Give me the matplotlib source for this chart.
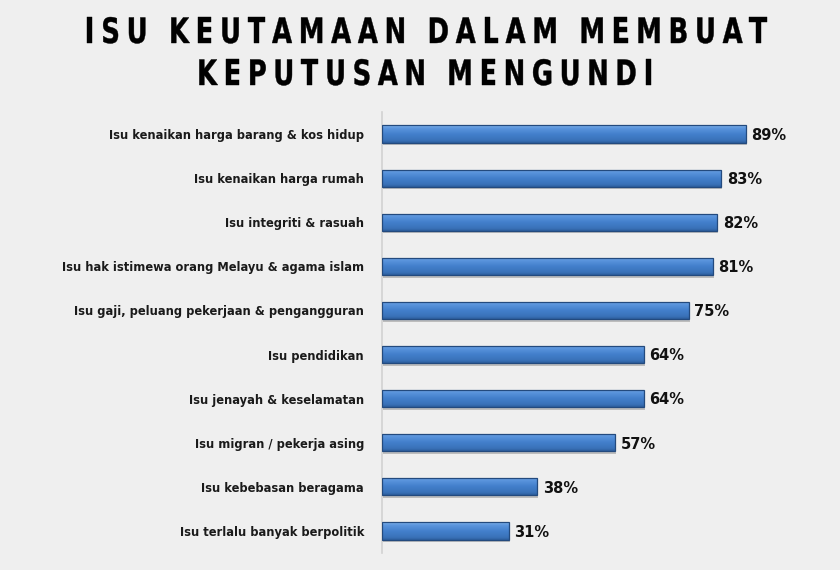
import numpy as np
import matplotlib
matplotlib.use("Agg")
import matplotlib.pyplot as plt
from matplotlib.colors import LinearSegmentedColormap
from matplotlib.textpath import TextPath, TextToPath
from matplotlib.font_manager import FontProperties
from matplotlib.patches import PathPatch
from matplotlib.transforms import Affine2D, IdentityTransform

categories = [
    "Isu kenaikan harga barang & kos hidup",
    "Isu kenaikan harga rumah",
    "Isu integriti & rasuah",
    "Isu hak istimewa orang Melayu & agama islam",
    "Isu gaji, peluang pekerjaan & pengangguran",
    "Isu pendidikan",
    "Isu jenayah & keselamatan",
    "Isu migran / pekerja asing",
    "Isu kebebasan beragama",
    "Isu terlalu banyak berpolitik",
]
values = [89, 83, 82, 81, 75, 64, 64, 57, 38, 31]
title_lines = ["ISU KEUTAMAAN DALAM MEMBUAT", "KEPUTUSAN MENGUNDI"]

BG = "#efefef"
W, H = 840, 570
fig = plt.figure(figsize=(8.4, 5.7), dpi=100, facecolor=BG)
ax = fig.add_axes([382/W, 1-553/H, 409/W, (553-112)/H])
ax.set_facecolor(BG)

y = np.arange(len(values))
bars = ax.barh(y, values, height=0.39, color="#3f7cc8", edgecolor="none", zorder=2)

grad = np.linspace(0, 1, 64).reshape(-1, 1)
cmap = LinearSegmentedColormap.from_list(
    "g", [(0, "#86b9f0"), (0.15, "#5d97de"), (0.5, "#4380cc"), (0.85, "#3a72b9"), (1, "#2d5e9e")])
for b in bars:
    x0, y0 = b.get_x(), b.get_y()
    w, h = b.get_width(), b.get_height()
    ax.add_patch(plt.Rectangle((x0 + 0.2, y0 + 0.06), w, h, color="#bdbdbd", zorder=1, lw=0))
    im = ax.imshow(grad, extent=(x0, x0 + w, y0 + h, y0), aspect="auto", cmap=cmap,
                   zorder=2.5, origin="upper")
    im.set_clip_path(b)
    ax.add_patch(plt.Rectangle((x0, y0), w, h, fill=False, edgecolor="#234a7e", lw=0.9, zorder=3))

for yi, v in zip(y, values):
    ax.text(v + 1.3, yi + 0.03, f"{v}%", va="center", ha="left", fontsize=10.5,
            fontweight="bold", color="#111111")

ax.set_xlim(0, 100)
ax.set_ylim(len(values) - 0.5, -0.5)
ax.set_yticks(y)
ax.set_yticklabels(categories, fontsize=8.3, fontweight="bold", color="#1a1a1a")
ax.tick_params(axis="y", length=0, pad=13)
ax.set_xticks([])
for s in ["top", "right", "bottom"]:
    ax.spines[s].set_visible(False)
ax.spines["left"].set_color("#d2d2d2")
ax.spines["left"].set_linewidth(1.2)

# ---- title: condensed, letter-spaced, drawn glyph by glyph in pixel space
prop = FontProperties(family="DejaVu Sans", weight="bold")
ttp = TextToPath()
CAP = 25.5
S = CAP / 0.729
SX = 0.74
SPACE = 8.0
def adv(ch):
    if ch == " ":
        return SPACE
    w, _, _ = ttp.get_text_width_height_descent(ch, prop, ismath=False)
    return w * S / prop.get_size_in_points() * SX

targets = [(85, 767, 43), (197, 653, 85)]  # left, right, baseline (px from top)
for line, (l, r, base) in zip(title_lines, targets):
    widths = [adv(c) for c in line]
    track = ((r - l) - sum(widths)) / (len(line) - 1)
    x = l
    for c, wc in zip(line, widths):
        if c != " ":
            p = TextPath((0, 0), c, size=S, prop=prop)
            tr = Affine2D().scale(SX, 1).translate(x, H - base) + IdentityTransform()
            patch = PathPatch(p, facecolor="#000000", edgecolor="#000000", lw=0.3,
                              transform=tr)
            fig.add_artist(patch)
        x += wc + track

fig.savefig("out.png", dpi=100, facecolor=BG)
